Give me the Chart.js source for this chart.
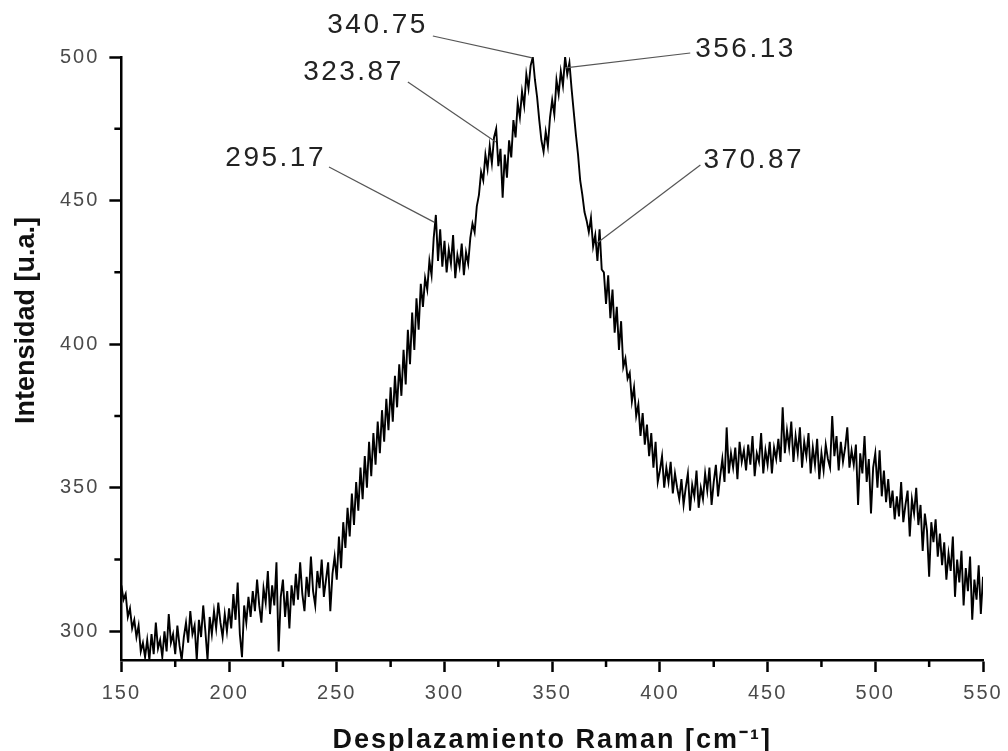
<!DOCTYPE html>
<html>
<head>
<meta charset="utf-8">
<script src="https://cdn.jsdelivr.net/npm/chart.js@4.4.1/dist/chart.umd.min.js"></script>
<style>
  html, body { margin: 0; padding: 0; background: #fff; }
  canvas { display: block; }
</style>
</head>
<body>
<canvas id="raman" width="1008" height="751"></canvas>
<script>
// Raman spectrum, one reading per cm-1 from 150 to 550
const shiftStart = 150;
const shiftStep = 1;
const intensity = [
  // 150
  316, 311, 313, 305, 308, 301, 304, 298, 302, 293,
  // 160
  296, 291, 297, 290, 299, 292, 303, 294, 297, 291,
  // 170
  300, 293, 306, 296, 299, 292, 302, 295, 290, 298,
  // 180
  303, 296, 307, 299, 302, 290, 304, 298, 309, 300,
  // 190
  290, 305, 299, 307, 301, 310, 303, 298, 306, 300,
  // 200
  308, 301, 313, 304, 317, 299, 291, 309, 303, 312,
  // 210
  305, 314, 307, 318, 309, 303, 315, 310, 321, 306,
  // 220
  316, 309, 324, 293, 312, 318, 305, 314, 301, 316,
  // 230
  309, 320, 311, 324, 313, 307, 319, 312, 326, 314,
  // 240
  309, 321, 315, 325, 312, 318, 324, 307, 320, 326,
  // 250
  318, 333, 322, 338, 329, 343, 333, 348, 337, 352,
  // 260
  342, 357, 346, 361, 350, 366, 354, 369, 358, 373,
  // 270
  362, 377, 366, 381, 370, 385, 373, 389, 378, 393,
  // 280
  382, 398, 386, 405, 393, 411, 398, 416, 405, 421,
  // 290
  413, 423, 419, 429, 424, 437, 445, 429, 440, 427,
  // 300
  436, 425, 433, 428, 438, 423, 431, 427, 435, 424,
  // 310
  432, 428, 437, 442, 439, 448, 452, 460, 457, 466,
  // 320
  461, 469, 463, 472, 475, 462, 468, 451, 466, 458,
  // 330
  471, 465, 478, 472, 484, 479, 488, 483, 494, 489,
  // 340
  497, 500, 492, 486, 478, 471, 467, 474, 469, 479,
  // 350
  485, 480, 492, 487, 495, 490, 500, 494, 498, 489,
  // 360
  481, 473, 466, 457, 452, 446, 443, 439, 444, 434,
  // 370
  438, 429, 440, 426, 425, 414, 424, 409, 419, 404,
  // 380
  413, 398, 408, 392, 395, 388, 390, 380, 385, 375,
  // 390
  379, 368, 376, 365, 372, 361, 369, 357, 366, 352,
  // 400
  356, 361, 350, 357, 352, 359, 348, 355, 350, 346,
  // 410
  353, 344, 350, 355, 342, 351, 347, 356, 343, 350,
  // 420
  346, 355, 349, 357, 344, 352, 358, 347, 354, 360,
  // 430
  352, 371, 355, 362, 357, 364, 353, 366, 359, 363,
  // 440
  356, 365, 358, 368, 354, 362, 359, 369, 355, 363,
  // 450
  358, 366, 355, 364, 360, 367, 359, 378, 362, 370,
  // 460
  364, 373, 359, 368, 362, 371, 357, 366, 361, 369,
  // 470
  355, 364, 358, 367, 353, 362, 356, 365, 360, 357,
  // 480
  375, 361, 368, 356, 366, 359, 364, 371, 357, 363,
  // 490
  358, 365, 344, 362, 355, 368, 352, 360, 341, 357,
  // 500
  362, 350, 363, 347, 356, 345, 353, 343, 349, 339,
  // 510
  347, 340, 352, 338, 344, 349, 333, 346, 341, 350,
  // 520
  337, 344, 328, 341, 335, 319, 338, 331, 339, 326,
  // 530
  334, 323, 331, 318, 327, 321, 333, 312, 325, 317,
  // 540
  328, 309, 322, 314, 326, 304, 318, 311, 323, 306,
  // 550
  319
];

const xTicks = [150, 200, 250, 300, 350, 400, 450, 500, 550];
const xMinorTicks = [175, 225, 275, 325, 375, 425, 475, 525];
const yTicks = [300, 350, 400, 450, 500];
const yMinorTicks = [325, 375, 425, 475];

// peak labels: text, peak point, start of the leader line, text anchor (data units)
const peakLabels = ['295.17', '323.87', '340.75', '356.13', '370.87'];
const peakX = [295.17, 323.87, 340.75, 356.13, 370.87];
const peakY = [442.5, 470.4, 499.7, 496.2, 435.2];
const leaderX = [246.4, 283, 294.6, 414.1, 418.8];
const leaderY = [461.7, 491.3, 507.3, 501.4, 462.4];
const labelX = [245, 281.1, 292.3, 416.4, 420.2];
const labelY = [464.8, 494.8, 511.1, 502.8, 464.1];
const labelAlign = ['right', 'right', 'right', 'left', 'left'];

const points = intensity.map((v, i) => ({ x: shiftStart + i * shiftStep, y: v }));

const spacing = {
  id: 'spacing',
  beforeUpdate(chart) { chart.ctx.letterSpacing = '2px'; },
  beforeDraw(chart) { chart.ctx.letterSpacing = '2px'; }
};

const extras = {
  id: 'extras',
  afterDraw(chart) {
    const { ctx, chartArea } = chart;
    const xs = chart.scales.x, ys = chart.scales.y;
    ctx.save();

    // minor ticks
    ctx.strokeStyle = '#000';
    ctx.lineWidth = 2.5;
    ctx.beginPath();
    xMinorTicks.forEach(v => {
      const px = xs.getPixelForValue(v);
      ctx.moveTo(px, chartArea.bottom);
      ctx.lineTo(px, chartArea.bottom + 7);
    });
    yMinorTicks.forEach(v => {
      const py = ys.getPixelForValue(v);
      ctx.moveTo(chartArea.left, py);
      ctx.lineTo(chartArea.left - 7, py);
    });
    ctx.stroke();

    // peak annotations
    ctx.strokeStyle = '#555';
    ctx.lineWidth = 1.2;
    ctx.fillStyle = '#222';
    ctx.font = '28px "Liberation Sans", Arial, sans-serif';
    ctx.letterSpacing = '2.5px';
    ctx.textBaseline = 'middle';
    peakLabels.forEach((t, i) => {
      ctx.beginPath();
      ctx.moveTo(xs.getPixelForValue(leaderX[i]), ys.getPixelForValue(leaderY[i]));
      ctx.lineTo(xs.getPixelForValue(peakX[i]), ys.getPixelForValue(peakY[i]));
      ctx.stroke();
      ctx.textAlign = labelAlign[i];
      ctx.fillText(t, xs.getPixelForValue(labelX[i]), ys.getPixelForValue(labelY[i]));
    });

    // y axis title
    ctx.letterSpacing = '0px';
    ctx.translate(27, chartArea.top + (chartArea.bottom - chartArea.top) * 0.437);
    ctx.rotate(-Math.PI / 2);
    ctx.textAlign = 'center';
    ctx.fillStyle = '#111';
    ctx.font = 'bold 27px "Liberation Sans", Arial, sans-serif';
    ctx.fillText('Intensidad [u.a.]', 0, 0);
    ctx.restore();
  }
};

new Chart(document.getElementById('raman'), {
  type: 'line',
  data: {
    datasets: [{
      data: points,
      borderColor: '#000',
      borderWidth: 1.9,
      pointRadius: 0,
      tension: 0,
      fill: false
    }]
  },
  options: {
    responsive: false,
    animation: false,
    layout: { padding: { left: 50, right: 25, top: 57, bottom: 0 } },
    plugins: { legend: { display: false }, tooltip: { enabled: false } },
    scales: {
      x: {
        type: 'linear',
        min: 150,
        max: 550,
        afterBuildTicks: s => { s.ticks = xTicks.map(v => ({ value: v })); },
        afterFit: s => { s.paddingRight = 0; },
        grid: { drawOnChartArea: false, drawTicks: true, tickLength: 12, tickWidth: 2.5, tickColor: '#000' },
        border: { display: true, color: '#000', width: 2.5 },
        ticks: {
          color: '#4a4a4a',
          padding: 9,
          maxRotation: 0,
          font: { family: '"Liberation Sans", Arial, sans-serif', size: 20 }
        },
        title: {
          display: true,
          text: 'Desplazamiento Raman [cm\u207B\u00B9]',
          color: '#111',
          font: { family: '"Liberation Sans", Arial, sans-serif', size: 27, weight: 'bold', lineHeight: 1 },
          padding: { top: 13, bottom: -3 }
        }
      },
      y: {
        type: 'linear',
        min: 290,
        max: 500,
        afterBuildTicks: s => { s.ticks = yTicks.map(v => ({ value: v })); },
        grid: { drawOnChartArea: false, drawTicks: true, tickLength: 12, tickWidth: 2.5, tickColor: '#000' },
        border: { display: true, color: '#000', width: 2.5 },
        ticks: {
          color: '#4a4a4a',
          padding: 10,
          font: { family: '"Liberation Sans", Arial, sans-serif', size: 20 }
        }
      }
    }
  },
  plugins: [spacing, extras]
});
</script>
</body>
</html>
